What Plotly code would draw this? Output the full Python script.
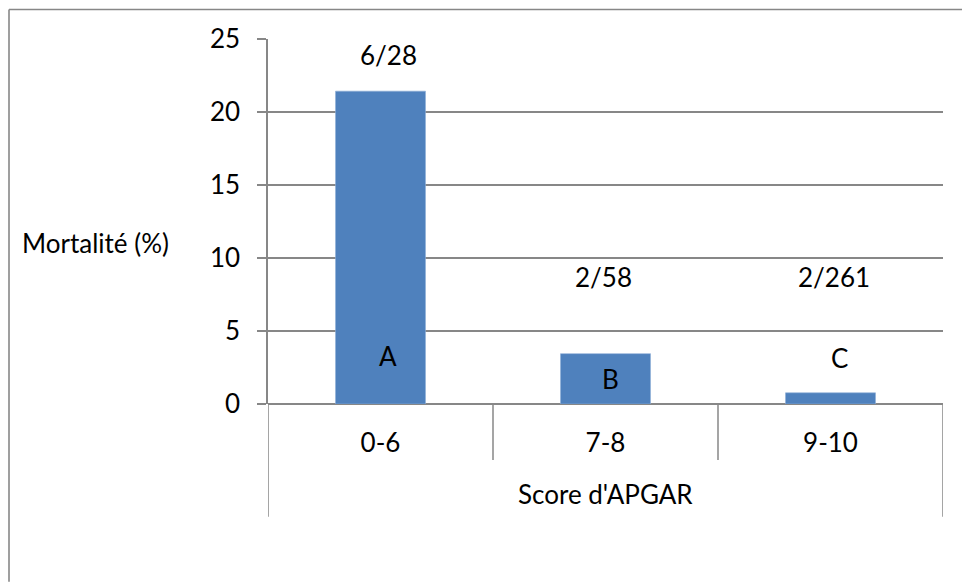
import plotly.graph_objects as go

# Data: deaths / newborns per APGAR score band
categories = ["0-6", "7-8", "9-10"]
deaths = [6, 2, 2]
totals = [28, 58, 261]
group_letters = ["A", "B", "C"]
axis_group = "Score d'APGAR"
y_title = "Mortalité (%)"
y_ticks = [0, 5, 10, 15, 20, 25]

mortality = [100.0 * d / t for d, t in zip(deaths, totals)]
ratio_labels = [f"{d}/{t}" for d, t in zip(deaths, totals)]

W, H = 963, 583
L, R, T, B = 268, 943, 38.5, 404  # plot area in pixels
FONT = "Lato"
GRID = "#878787"
BAR = "#4F81BD"


def px_x(px):
    return (px - L) / (R - L)


def px_y(py):
    return (B - py) / (B - T)


fig = go.Figure(
    go.Bar(
        x=list(range(len(categories))),
        y=mortality,
        width=0.4,
        marker=dict(color=BAR, line=dict(color="#8EAED6", width=0.6)),
        hoverinfo="skip",
    )
)

fig.update_layout(
    width=W,
    height=H,
    margin=dict(l=L, r=W - R, t=T, b=H - B, pad=0),
    paper_bgcolor="white",
    plot_bgcolor="white",
    showlegend=False,
    font=dict(family=FONT, size=26, color="black"),
)

fig.update_xaxes(
    range=[-0.5, len(categories) - 0.5],
    tickmode="array",
    tickvals=list(range(len(categories))),
    ticktext=categories,
    ticks="",
    showgrid=False,
    showline=False,
    zeroline=False,
    ticklabelstandoff=21,
    tickfont=dict(family=FONT, size=26, color="black"),
)

fig.update_yaxes(
    range=[0, 25],
    tickmode="array",
    tickvals=y_ticks,
    ticks="outside",
    ticklen=9,
    tickwidth=1.5,
    tickcolor=GRID,
    showgrid=True,
    gridcolor=GRID,
    gridwidth=1.5,
    zeroline=True,
    zerolinecolor=GRID,
    zerolinewidth=1.5,
    showline=True,
    linecolor=GRID,
    linewidth=1.5,
    ticklabelstandoff=12,
    tickfont=dict(family=FONT, size=26, color="black"),
)

shapes = []
# outer chart frame: top and left edges (the others run past the page)
shapes.append(dict(type="line", xref="paper", yref="paper",
                   x0=px_x(9), x1=px_x(962), y0=px_y(9), y1=px_y(9),
                   line=dict(color=GRID, width=1.6)))
shapes.append(dict(type="line", xref="paper", yref="paper",
                   x0=px_x(9), x1=px_x(9), y0=px_y(9), y1=px_y(582),
                   line=dict(color=GRID, width=1.6)))
# category separators below the axis (inner) and group edges (outer)
n = len(categories)
for i in range(n + 1):
    bottom = 517 if i in (0, n) else 460
    shapes.append(dict(type="line", xref="x", yref="paper",
                       x0=i - 0.5, x1=i - 0.5, y0=0, y1=px_y(bottom),
                       line=dict(color=GRID, width=1.5)))
fig.update_layout(shapes=shapes)

annotations = []
# y-axis title, horizontal on the left
annotations.append(dict(text=y_title, xref="paper", yref="paper",
                        x=px_x(95.5), y=px_y(242.7), xanchor="center",
                        yanchor="middle", showarrow=False,
                        font=dict(family=FONT, size=26, color="black")))
# group title under the category labels
annotations.append(dict(text=axis_group, xref="paper", yref="paper",
                        x=0.5, y=px_y(494), xanchor="center",
                        yanchor="middle", showarrow=False,
                        font=dict(family=FONT, size=26, color="black")))

ratio_shift = [(7.5, 36), (-2.5, 76.5), (3.5, 115.5)]
letter_shift = [(7.5, 48), (5, 25), (8.5, 46)]
for i in range(n):
    dx, dy = ratio_shift[i]
    annotations.append(dict(text=ratio_labels[i], xref="x", yref="y",
                            x=i, y=mortality[i], xshift=dx, yshift=dy,
                            xanchor="center", yanchor="middle", showarrow=False,
                            font=dict(family=FONT, size=26, color="black")))
    lx, ly = letter_shift[i]
    annotations.append(dict(text=group_letters[i], xref="x", yref="y",
                            x=i, y=0, xshift=lx, yshift=ly,
                            xanchor="center", yanchor="middle", showarrow=False,
                            font=dict(family=FONT, size=26, color="black")))
fig.update_layout(annotations=annotations)

fig.write_html("out.html")
